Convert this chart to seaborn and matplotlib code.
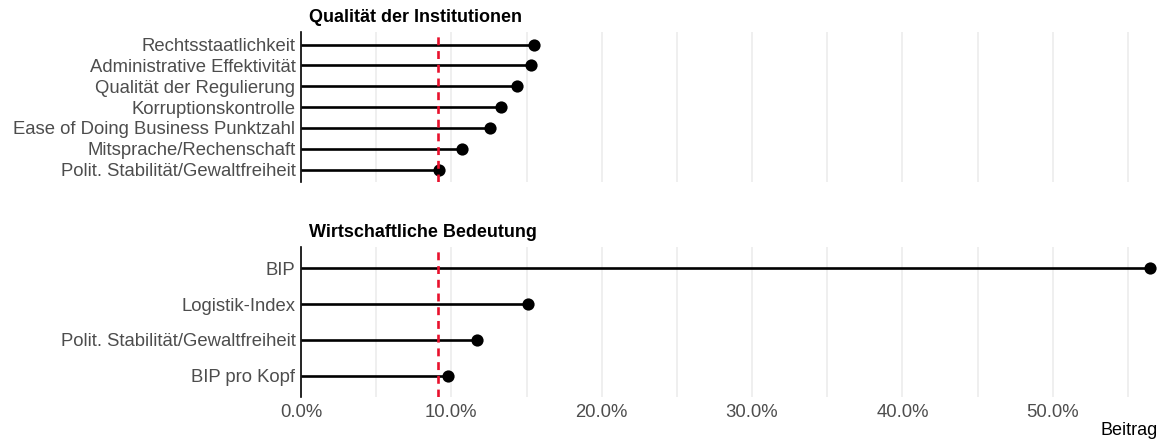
import numpy as np
import pandas as pd
import matplotlib
matplotlib.use('Agg')
import matplotlib.pyplot as plt
import seaborn as sns
from matplotlib.ticker import PercentFormatter, MultipleLocator

# --- Daten ---
institutionen_merkmale = ['Rechtsstaatlichkeit', 'Administrative Effektivität',
                          'Qualität der Regulierung', 'Korruptionskontrolle',
                          'Ease of Doing Business Punktzahl', 'Mitsprache/Rechenschaft',
                          'Polit. Stabilität/Gewaltfreiheit']
institutionen_beitrag = [0.155, 0.153, 0.144, 0.133, 0.126, 0.107, 0.0915]

wirtschaft_merkmale = ['BIP', 'Logistik-Index', 'Polit. Stabilität/Gewaltfreiheit', 'BIP pro Kopf']
wirtschaft_beitrag = [0.5645, 0.151, 0.117, 0.0977]

gruppen = ['Qualität der Institutionen', 'Wirtschaftliche Bedeutung']
durchschnitt = 0.091  # rote Referenzlinie

df = pd.concat([
    pd.DataFrame({'Merkmal': institutionen_merkmale, 'Beitrag': institutionen_beitrag, 'Gruppe': gruppen[0]}),
    pd.DataFrame({'Merkmal': wirtschaft_merkmale, 'Beitrag': wirtschaft_beitrag, 'Gruppe': gruppen[1]}),
], ignore_index=True)

sns.set_theme(style='white')
plt.rcParams['font.family'] = ['Liberation Sans', 'DejaVu Sans']

fig = plt.figure(figsize=(11.67, 4.41), dpi=100)
ax_top = fig.add_axes([0.2579, 0.5873, 0.7344, 0.3401])
ax_bot = fig.add_axes([0.2579, 0.0998, 0.7344, 0.3401])

for ax, gruppe in zip([ax_top, ax_bot], gruppen):
    sub = df[df['Gruppe'] == gruppe].reset_index(drop=True)
    n = len(sub)
    # Lollipop: Linie von 0 bis Wert, dann Punkt
    ax.hlines(np.arange(n), 0, sub['Beitrag'], color='black', lw=1.9, zorder=3)
    sns.stripplot(data=sub, x='Beitrag', y='Merkmal', order=sub['Merkmal'].tolist(),
                  jitter=False, color='black', size=8.8, ax=ax, zorder=4)
    ax.axvline(durchschnitt, color='#E8112D', ls=(0, (3, 2.2)), lw=1.9, zorder=5)

    ax.set_xlim(0, 0.57)
    ax.set_ylim(n - 1 + 0.6, -0.6)
    ax.xaxis.set_major_locator(MultipleLocator(0.1))
    ax.xaxis.set_minor_locator(MultipleLocator(0.05))
    ax.xaxis.set_major_formatter(PercentFormatter(xmax=1, decimals=1))
    ax.grid(axis='x', which='both', color='#EBEBEB', lw=1.1)
    ax.grid(axis='y', visible=False)
    ax.set_axisbelow(True)

    for s in ['top', 'right', 'bottom']:
        ax.spines[s].set_visible(False)
    ax.spines['left'].set_color('black')
    ax.spines['left'].set_linewidth(1.2)

    ax.tick_params(axis='both', which='both', length=0, labelsize=13.3, labelcolor='#4D4D4D')
    ax.tick_params(axis='y', pad=4)
    ax.set_ylabel('')
    ax.set_xlabel('')
    ax.text(0.009, 1.1, gruppe, transform=ax.transAxes, ha='left', va='center',
            fontsize=13, fontweight='bold', color='black')

ax_top.tick_params(axis='x', labelbottom=False)
ax_bot.tick_params(axis='x', pad=5)
ax_bot.set_xlabel('Beitrag', loc='right', fontsize=13, color='black', labelpad=1)

fig.savefig('out.png', dpi=100)
